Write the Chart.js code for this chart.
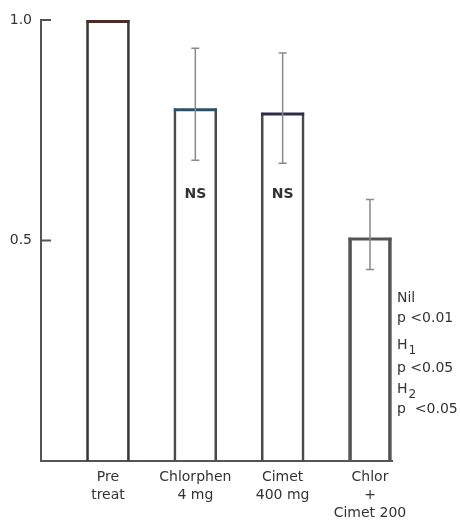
<!DOCTYPE html>
<html>
<head>
<meta charset="utf-8">
<script src="https://cdn.jsdelivr.net/npm/chart.js@4.4.1/dist/chart.umd.min.js"></script>
<style>
  html, body { margin: 0; padding: 0; background: #fff; }
  #wrap { width: 460px; height: 521px; }
</style>
</head>
<body>
<div id="wrap"><canvas id="chart" width="460" height="521"></canvas></div>
<script>
/* -------- data -------- */
const groups = [['Pre', 'treat'], ['Chlorphen', '4 mg'], ['Cimet', '400 mg'], ['Chlor', '+', 'Cimet 200']];
const ratio = [1.0, 0.80, 0.79, 0.507];
const errHigh = [null, 0.936, 0.925, 0.593];
const errLow = [null, 0.682, 0.675, 0.434];
const signif = ['', 'NS', 'NS', ''];
const yTicks = [0.5, 1.0];
const notes = [['Nil'], ['p <0.01'], ['H', '1'], ['p <0.05'], ['H', '2'], ['p  <0.05']];

/* -------- styles -------- */
const sideColors = ['#3d3535', '#4a4a4a', '#4a4a4a', '#555555'];
const topColors = ['#4a2c28', '#2f5168', '#2c2c4e', '#555555'];
const sideWidths = [2, 2, 2, 3];
const TEXT = '#333333';
const FONT = 'DejaVu Sans';
const NS_AT = 0.605;
const noteY = [298, 318, 345, 368, 389, 409];

Chart.defaults.font.family = FONT;
Chart.defaults.color = TEXT;

const overlay = {
    id: 'overlay',
    afterDatasetsDraw(chart) {
        const ctx = chart.ctx;
        const ys = chart.scales.y;
        const area = chart.chartArea;
        const bars = chart.getDatasetMeta(0).data;
        ctx.save();

        // tick marks pointing into the plot
        ctx.strokeStyle = '#555';
        ctx.lineWidth = 2;
        yTicks.forEach((v) => {
            const py = ys.getPixelForValue(v);
            ctx.beginPath();
            ctx.moveTo(area.left, py);
            ctx.lineTo(area.left + 10, py);
            ctx.stroke();
        });

        // coloured bar tops
        bars.forEach((b, i) => {
            ctx.strokeStyle = topColors[i];
            ctx.lineWidth = 3;
            ctx.beginPath();
            ctx.moveTo(b.x - b.width / 2, b.y + 1.5);
            ctx.lineTo(b.x + b.width / 2, b.y + 1.5);
            ctx.stroke();
        });

        // error bars
        ctx.strokeStyle = '#8a8a8a';
        ctx.lineWidth = 1.5;
        bars.forEach((b, i) => {
            if (errHigh[i] == null) return;
            const hi = ys.getPixelForValue(errHigh[i]);
            const lo = ys.getPixelForValue(errLow[i]);
            ctx.beginPath();
            ctx.moveTo(b.x, hi);
            ctx.lineTo(b.x, lo);
            ctx.moveTo(b.x - 4, hi);
            ctx.lineTo(b.x + 4, hi);
            ctx.moveTo(b.x - 4, lo);
            ctx.lineTo(b.x + 4, lo);
            ctx.stroke();
        });

        // NS labels
        ctx.fillStyle = TEXT;
        ctx.font = 'bold 14px ' + FONT;
        ctx.textAlign = 'center';
        ctx.textBaseline = 'middle';
        bars.forEach((b, i) => {
            if (signif[i]) ctx.fillText(signif[i], b.x, ys.getPixelForValue(NS_AT));
        });

        // notes right of last bar
        ctx.textAlign = 'left';
        const nx = area.right + 5;
        notes.forEach((n, i) => {
            ctx.font = '14px ' + FONT;
            ctx.fillText(n[0], nx, noteY[i]);
            if (n[1]) {
                const w = ctx.measureText(n[0]).width;
                ctx.font = '12px ' + FONT;
                ctx.fillText(n[1], nx + w + 1, noteY[i] + 6);
            }
        });
        ctx.restore();
    },
};

new Chart(document.getElementById('chart'), {
    type: 'bar',
    data: {
        datasets: [
            {
                data: ratio.map((v, i) => ({ x: i + 1, y: v })),
                backgroundColor: 'rgba(255,255,255,0)',
                borderColor: sideColors,
                borderWidth: sideWidths.map((w) => ({ top: 0, left: w, right: w, bottom: 0 })),
                borderSkipped: false,
                barThickness: 43,
            },
        ],
    },
    options: {
        responsive: false,
        animation: false,
        layout: { padding: { top: 20, right: 68, left: 0, bottom: 0 } },
        plugins: { legend: { display: false }, tooltip: { enabled: false } },
        scales: {
            x: {
                type: 'linear',
                min: 0.233,
                max: 4.252,
                offset: false,
                grid: { display: false, drawTicks: false },
                border: { display: true, color: '#555', width: 2 },
                afterBuildTicks: (s) => {
                    s.ticks = groups.map((g, i) => ({ value: i + 1 }));
                },
                afterFit: (s) => {
                    s.height = 60;
                },
                ticks: {
                    padding: 7,
                    maxRotation: 0,
                    autoSkip: false,
                    font: { size: 14, lineHeight: 1.29 },
                    callback: (v) => groups[v - 1] || '',
                },
            },
            y: {
                min: 0,
                max: 1,
                grid: { display: false, drawTicks: false },
                border: { display: true, color: '#555', width: 2 },
                afterBuildTicks: (s) => {
                    s.ticks = yTicks.map((v) => ({ value: v }));
                },
                afterFit: (s) => {
                    s.width = 41;
                },
                ticks: {
                    padding: 9,
                    font: { size: 14 },
                    callback: (v) => v.toFixed(1),
                },
            },
        },
    },
    plugins: [overlay],
});
</script>
</body>
</html>
